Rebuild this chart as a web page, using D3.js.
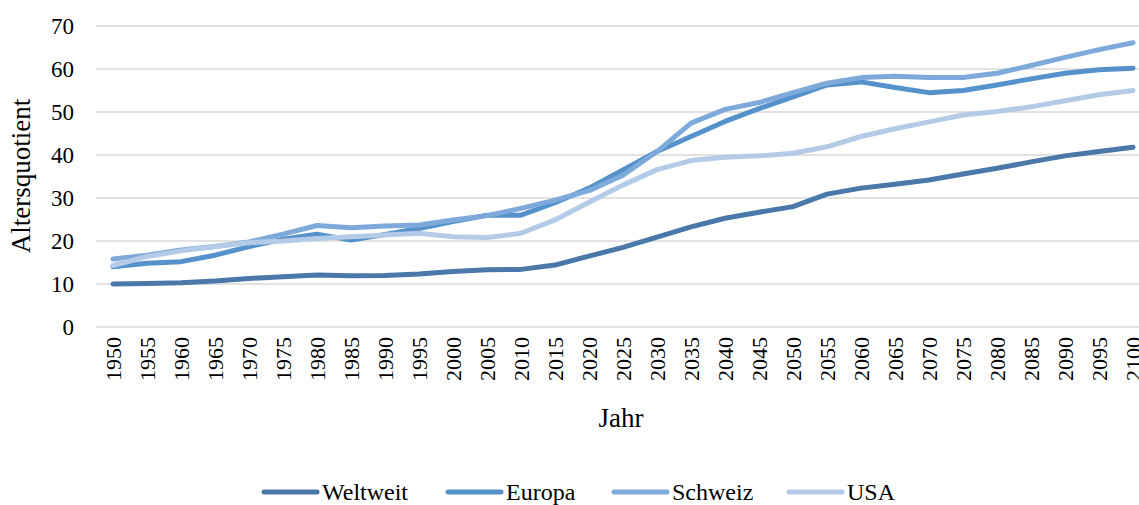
<!DOCTYPE html>
<html>
    <head>
        <meta charset="UTF-8"/>
        <style>
            body { margin: 0; background: #fff; }
            svg text { font-family: "Liberation Serif", serif; fill: #000; }
        </style>
    </head>
    <body>
        <svg width="1139" height="505" font-family="Liberation Serif"></svg>
        <script src="https://d3js.org/d3.v7.min.js" type="text/javascript"></script>
        <script>
            let years = d3.range(1950, 2101, 5);
            let yTicks = [0, 10, 20, 30, 40, 50, 60, 70];
            let seriesNames = ["Weltweit", "Europa", "Schweiz", "USA"];
            let colors = ["#4a78a9", "#5592cb", "#7eaadb", "#b4cbe8"];

            let weltweit = [10.0, 10.1, 10.3, 10.7, 11.3, 11.7, 12.1, 11.9, 12.0, 12.3, 12.9, 13.3, 13.4, 14.4, 16.5, 18.5,
                20.9, 23.3, 25.3, 26.7, 28.0, 30.9, 32.3, 33.2, 34.2, 35.6, 36.9, 38.4, 39.8, 40.8, 41.8];
            let europa = [14.0, 14.8, 15.2, 16.7, 18.7, 20.4, 21.6, 20.2, 21.5, 22.9, 24.5, 26.0, 26.0, 28.9, 32.3, 36.5,
                40.8, 44.3, 47.8, 50.8, 53.5, 56.3, 57.0, 55.7, 54.5, 55.0, 56.3, 57.7, 59.0, 59.8, 60.2];
            let schweiz = [15.8, 16.7, 17.9, 18.7, 19.8, 21.6, 23.6, 23.1, 23.5, 23.7, 24.9, 25.9, 27.6, 29.5, 31.7, 35.3,
                40.8, 47.4, 50.6, 52.2, 54.5, 56.7, 58.0, 58.3, 58.0, 58.0, 59.0, 60.8, 62.7, 64.5, 66.1];
            let usa = [14.3, 16.4, 17.7, 18.7, 19.6, 20.0, 20.6, 21.0, 21.4, 21.8, 21.0, 20.8, 21.8, 24.9, 29.0, 33.0,
                36.6, 38.7, 39.5, 39.8, 40.4, 41.9, 44.3, 46.1, 47.7, 49.3, 50.1, 51.2, 52.6, 54.0, 55.0];
            let seriesValues = [weltweit, europa, schweiz, usa];

            let svg = d3.select("svg");

            let x = d3.scalePoint()
                .domain(years)
                .range([96, 1150])
                .padding(0.5);
            let y = d3.scaleLinear()
                .domain([0, 70])
                .range([327, 26]);

            // gridlines
            svg.append("g")
                .selectAll("line")
                .data(yTicks)
                .enter()
                .append("line")
                .attr("x1", 96)
                .attr("x2", 1150)
                .attr("y1", d => y(d))
                .attr("y2", d => y(d))
                .attr("stroke", "#d9d9d9")
                .attr("stroke-width", 1.5);

            // y axis labels
            let yAxis = svg.append("g")
                .attr("transform", "translate(74,0)")
                .call(d3.axisLeft(y).tickValues(yTicks).tickSize(0).tickPadding(0))
                .attr("font-family", "Liberation Serif");
            yAxis.select(".domain").remove();
            yAxis.selectAll("text")
                .style("font-size", "23px")
                .attr("dy", "0.34em");

            // x axis labels
            let xAxis = svg.append("g")
                .attr("transform", "translate(0,337)")
                .call(d3.axisBottom(x).tickSize(0).tickPadding(0))
                .attr("font-family", "Liberation Serif");
            xAxis.select(".domain").remove();
            xAxis.selectAll("text")
                .style("font-size", "22px")
                .attr("text-anchor", "end")
                .attr("transform", "rotate(-90)")
                .attr("x", 0)
                .attr("y", 0)
                .attr("dy", "0.34em");

            // axis titles
            svg.append("text")
                .attr("transform", "translate(30,176) rotate(-90)")
                .attr("text-anchor", "middle")
                .style("font-size", "27px")
                .text("Altersquotient");
            svg.append("text")
                .attr("x", 621)
                .attr("y", 427)
                .attr("text-anchor", "middle")
                .style("font-size", "27px")
                .text("Jahr");

            // lines
            let line = d3.line()
                .x((d, i) => x(years[i]))
                .y(d => y(d));
            svg.append("g")
                .selectAll("path")
                .data(seriesValues)
                .enter()
                .append("path")
                .attr("d", d => line(d))
                .attr("fill", "none")
                .attr("stroke", (d, i) => colors[i])
                .attr("stroke-width", 5)
                .attr("stroke-linecap", "round")
                .attr("stroke-linejoin", "round");

            // legend
            let legendX = [264, 448, 614, 789];
            let legend = svg.append("g")
                .selectAll("g")
                .data(seriesNames)
                .enter()
                .append("g")
                .attr("transform", (d, i) => "translate(" + legendX[i] + ",492)");
            legend.append("line")
                .attr("x1", 0)
                .attr("x2", 53)
                .attr("stroke", (d, i) => colors[i])
                .attr("stroke-width", 5)
                .attr("stroke-linecap", "round");
            legend.append("text")
                .attr("x", 58)
                .attr("dy", "0.34em")
                .style("font-size", "24px")
                .text(d => d);
        </script>
    </body>
</html>
